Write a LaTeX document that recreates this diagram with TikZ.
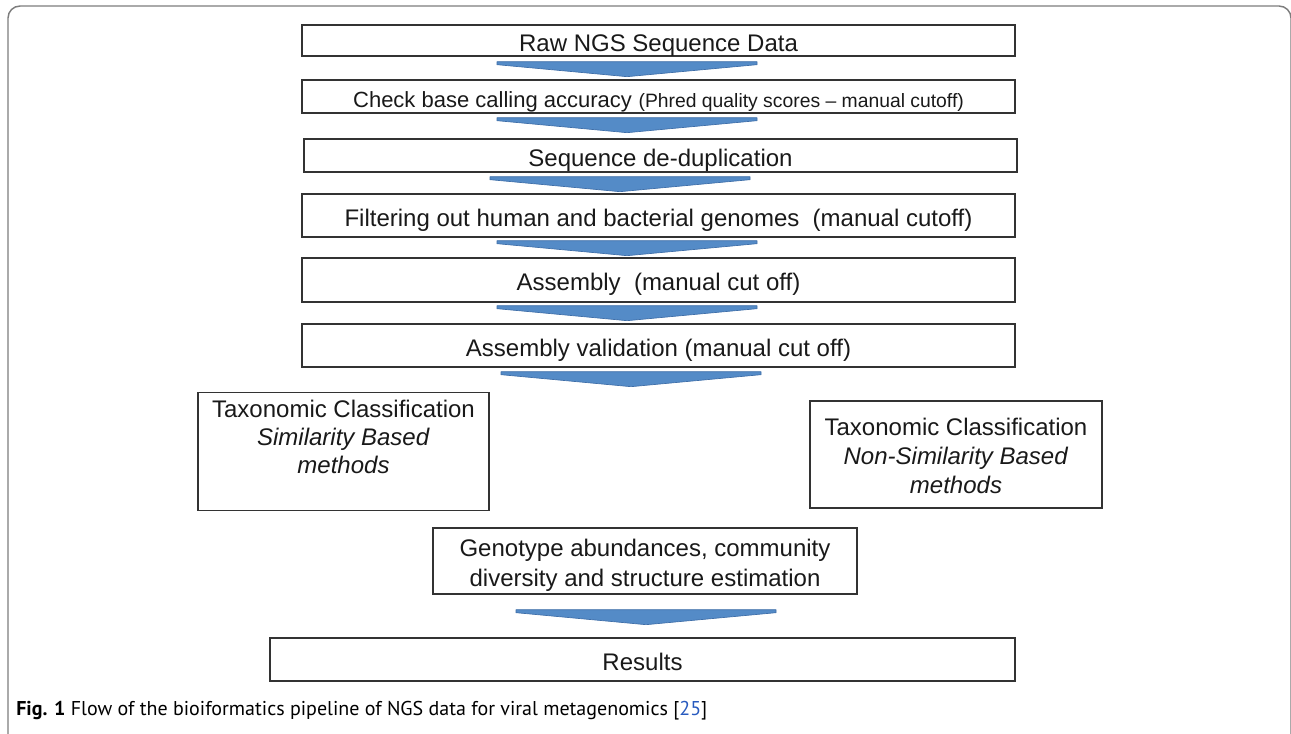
\documentclass[tikz,border=0pt]{standalone}
\usepackage{fontspec}
\setmainfont{Liberation Sans}
\newfontfamily\capfont{PT Sans}
\usetikzlibrary{calc}
\definecolor{flowblue}{RGB}{84,139,199}
\definecolor{flowedge}{RGB}{62,110,168}
\definecolor{framegray}{RGB}{125,125,125}
\definecolor{citeblue}{RGB}{40,90,190}

% block chevron under node #1, shifted #2 sideways, #3 down
\newcommand{\chev}[3]{%
  \draw[chevron] ($(#1.south)+(#2,#3)$) ++(-130,0) -- ++(260,0) -- ++(0,3)
    -- ++(-130,12) -- ++(-130,-12) -- cycle;}

\begin{document}
\begin{tikzpicture}[x=0.75pt, y=-0.75pt,
  px/.style 2 args={minimum width=#1*0.75pt, minimum height=#2*0.75pt},
  box/.style={draw=black!80, line width=1pt, inner sep=0pt, text=black!90,
    font=\fontsize{18}{21}\selectfont},
  oneline/.style={text height=15.9pt, text depth=0pt},
  chevron/.style={fill=flowblue, draw=flowedge, line width=0.5pt, line join=round}]
  \useasboundingbox (0,0) rectangle (1291,733);
  \draw[framegray, line width=1.1pt, rounded corners=9] (8,760) -- (8,6) -- (1291,6) -- (1291,760);

  \node[box, oneline, px={713}{31}] (raw) at (658.5,40.5) {Raw NGS Sequence Data};
  \node[box, oneline, px={713}{33}] (check) at (658.5,96.5) {{\fontsize{16.5}{20}\selectfont Check base calling accuracy}
    {\fontsize{14.5}{16}\selectfont (Phred quality scores -- manual cutoff)}};
  \node[box, oneline, px={713}{33}] (dedup) at (660.5,155.5) {Sequence de-duplication};
  \node[box, oneline, px={713}{43}] (filter) at (658.5,215.5) {Filtering out human and bacterial genomes\ \ (manual cutoff)};
  \node[box, oneline, px={713}{44}] (asm) at (658.5,280) {Assembly\ \ (manual cut off)};
  \node[box, oneline, px={713}{43}] (valid) at (658.5,345.5) {Assembly validation (manual cut off)};
  \node[box, px={291}{109}, align=center] (simtax) at (343.5,451.5)
    {\rule{0pt}{19pt}Taxonomic Classification\\ \textit{Similarity Based}\\ \textit{methods}\\ \strut};
  \node[box, px={292}{107}, align=center, font=\fontsize{18}{21.75}\selectfont] (nonsimtax) at (956,454.5)
    {\rule{0pt}{15.2pt}Taxonomic Classification\\ \textit{Non-Similarity Based}\\ \textit{methods}};
  \node[box, px={424}{66}, align=center, font=\fontsize{18}{22.5}\selectfont] (geno) at (645,561)
    {\rule{0pt}{19pt}Genotype abundances, community\\ diversity and structure estimation};
  \node[box, oneline, px={745}{43}] (results) at (642.5,659.5) {Results};

  \chev{raw}{-31.5}{5}
  \chev{check}{-31.5}{4}
  \chev{dedup}{-40.5}{4}
  \chev{filter}{-31.5}{3}
  \chev{asm}{-31.5}{3}
  \chev{valid}{-27.5}{4}
  \chev{geno}{1}{15}

  \node[anchor=west, inner sep=0pt, font=\capfont\fontsize{15}{18}\selectfont] (caption) at (16,711)
    {\textbf{Fig. 1} Flow of the bioiformatics pipeline of NGS data for viral metagenomics [{\color{citeblue}25}]};
\end{tikzpicture}
\end{document}
